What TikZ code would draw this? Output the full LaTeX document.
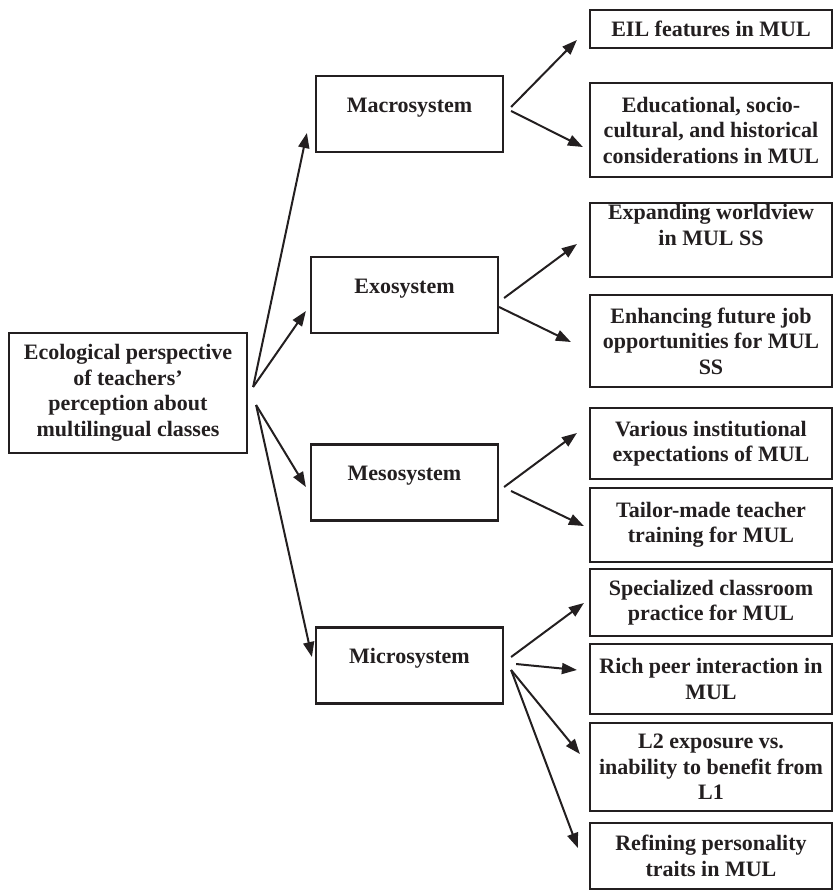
\documentclass[tikz,border=0pt]{standalone}
\usepackage{fontspec}
\setmainfont{Liberation Serif}
\usetikzlibrary{shapes,arrows.meta,fit,positioning}
\definecolor{ink}{HTML}{231F20}

\begin{document}
\begin{tikzpicture}[x=0.5pt,y=-0.5pt,
  every node/.style={font=\bfseries\fontsize{11}{12.75}\selectfont,text=ink},
  box/.style={draw=ink,line width=1.1pt,align=center,inner sep=0pt},
  sysbox/.style={box,minimum width=93.5pt,minimum height=38pt,text height=8pt,text depth=10pt},
  itembox/.style={box,minimum width=121pt},
  arr/.style={draw=ink,line width=1pt,-{Triangle[length=7.5pt,width=5.5pt]}}]
\useasboundingbox (0,0) rectangle (833,891);

\node[box,minimum width=119pt,minimum height=60pt] (root) at (128,393)
  {Ecological perspective\\of teachers'\\perception about\\multilingual classes};

\node[sysbox] (macro) at (409.5,114) {Macrosystem};
\node[sysbox] (exo) at (404.5,295) {Exosystem};
\node[sysbox] (meso) at (404.5,482.5) {Mesosystem};
\node[sysbox] (micro) at (409.5,665.5) {Microsystem};

\node[itembox,minimum height=19pt] (eil) at (711,29) {EIL features in MUL};
\node[itembox,minimum height=47pt] (edu) at (711,130)
  {Educational, socio-\\cultural, and historical\\considerations in MUL};
\node[itembox,minimum height=37pt,
  label={[align=center,yshift=7.5pt]center:Expanding worldview\\in MUL SS}] (world) at (711,240) {};
\node[itembox,minimum height=46pt] (job) at (711,341)
  {Enhancing future job\\opportunities for MUL\\SS};
\node[itembox,minimum height=35.5pt] (inst) at (711,443.5)
  {Various institutional\\expectations of MUL};
\node[itembox,minimum height=37pt] (train) at (711,525)
  {Tailor-made teacher\\training for MUL};
\node[itembox,minimum height=33.5pt] (class) at (711,602.5)
  {Specialized classroom\\practice for MUL};
\node[itembox,minimum height=35pt] (peer) at (711,679)
  {Rich peer interaction in\\MUL};
\node[itembox,minimum height=44pt] (expo) at (711,767)
  {L2 exposure vs.\\inability to benefit from\\L1};
\node[itembox,minimum height=33pt] (trait) at (711,856)
  {Refining personality\\traits in MUL};

\draw[arr] ([shift={(5,-6)}]root.east) -- ([shift={(-8,19)}]macro.west);
\draw[arr] ([shift={(5,-6)}]root.east) -- ([shift={(-4,16)}]exo.west);
\draw[arr] ([shift={(8,12)}]root.east) -- ([shift={(-4,4.5)}]meso.west);
\draw[arr] ([shift={(8,12)}]root.east) -- ([shift={(-3,-8.5)}]micro.west);

\draw[arr] ([shift={(7,-7)}]macro.east) -- ([shift={(-12,11)}]eil.west);
\draw[arr] ([shift={(7,-3)}]macro.east) -- ([shift={(-6,17)}]edu.west);
\draw[arr] ([shift={(5,3)}]exo.east) -- ([shift={(-12,4)}]world.west);
\draw[arr] ([shift={(0,12)}]exo.east) -- ([shift={(-18,1)}]job.west);
\draw[arr] ([shift={(5,4.5)}]meso.east) -- ([shift={(-12,-10.5)}]inst.west);
\draw[arr] ([shift={(12,8.5)}]meso.east) -- ([shift={(-5,1)}]train.west);
\draw[arr] ([shift={(7,-8.5)}]micro.east) -- ([shift={(-5,0.5)}]class.west);
\draw[arr] ([shift={(12,-1.5)}]micro.east) -- ([shift={(-12,-9)}]peer.west);
\draw[arr] ([shift={(7,4.5)}]micro.east) -- ([shift={(-9,-13)}]expo.west);
\draw[arr] ([shift={(7,4.5)}]micro.east) -- ([shift={(-11,-8)}]trait.west);
\end{tikzpicture}
\end{document}
